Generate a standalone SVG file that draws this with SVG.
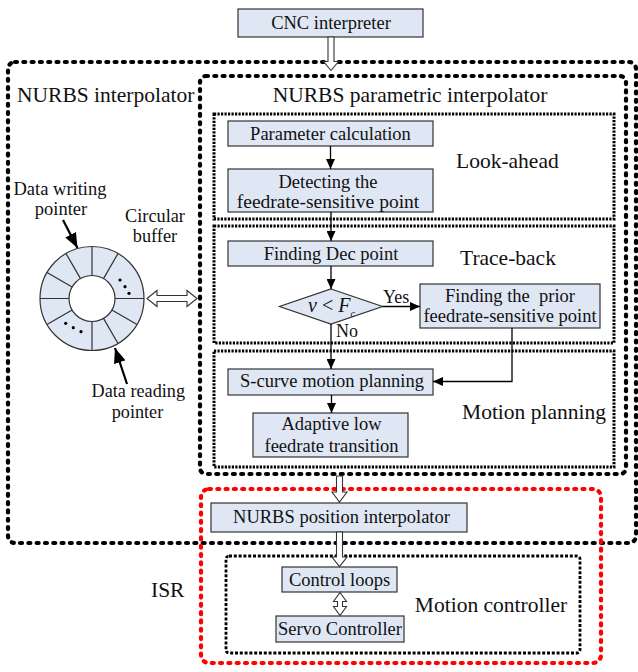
<svg xmlns="http://www.w3.org/2000/svg" width="638" height="672" viewBox="0 0 638 672" font-family="'Liberation Serif', 'Times New Roman', 'DejaVu Serif', serif">
<style>
text{font-family:'Liberation Serif','Times New Roman','DejaVu Serif',serif;fill:#111;}
.bx{fill:#dfe7f4;stroke:#333;stroke-width:1.2;}
.t18{font-size:18.5px;text-anchor:middle;}
.lbl{font-size:21.5px;}
.big{stroke:#000;stroke-width:4.2;fill:none;stroke-dasharray:2 6.3;stroke-linecap:round;}
.red{stroke:#ff0000;stroke-width:4.2;fill:none;stroke-dasharray:2 6.3;stroke-linecap:round;}
.sub{stroke:#000;stroke-width:3;fill:none;stroke-dasharray:2.2 1.3;}
.mc{stroke:#000;stroke-width:2.8;fill:none;stroke-dasharray:3 1.8;}
.ln{stroke:#000;stroke-width:1.3;fill:none;}
.hol{fill:#fff;stroke:#333;stroke-width:1.1;}
</style>
<defs>
<marker id="ah" markerUnits="userSpaceOnUse" markerWidth="10" markerHeight="9" refX="10" refY="4.5" orient="auto"><path d="M0,0 L10,4.5 L0,9 z" fill="#000"/></marker>
<marker id="ph" markerUnits="userSpaceOnUse" markerWidth="15" markerHeight="12" refX="15" refY="6" orient="auto"><path d="M0,0 L15,6 L0,12 z" fill="#000"/></marker>
</defs>
<rect width="638" height="672" fill="#fff"/>

<!-- containers -->
<g id="nurbs-interpolator">
<rect class="big" x="8" y="62" width="628" height="481" rx="7"/>
<text class="lbl" x="17" y="102">NURBS interpolator</text>
</g>
<g id="nurbs-parametric-interpolator">
<rect class="big" x="200" y="76" width="426" height="398" rx="6"/>
<text class="lbl" x="410" y="102" text-anchor="middle">NURBS parametric interpolator</text>
</g>
<g id="look-ahead">
<rect class="sub" x="214" y="114" width="400" height="105"/>
<text class="lbl" x="456" y="168">Look-ahead</text>
</g>
<g id="trace-back">
<rect class="sub" x="214" y="226" width="400" height="117"/>
<text class="lbl" x="460" y="265">Trace-back</text>
</g>
<g id="motion-planning">
<rect class="sub" x="214" y="351" width="400" height="116"/>
<text class="lbl" x="534" y="419" text-anchor="middle">Motion planning</text>
</g>
<g id="isr">
<rect class="red" x="201" y="489" width="400" height="174" rx="8"/>
<text class="lbl" x="151" y="597">ISR</text>
</g>
<g id="motion-controller">
<rect class="mc" x="226" y="556" width="354" height="97" rx="3"/>
<text class="lbl" x="491" y="612" text-anchor="middle">Motion controller</text>
</g>

<!-- nodes -->
<g id="cnc-interpreter">
<rect class="bx" x="238" y="9" width="185" height="28"/>
<text class="t18" x="331" y="28.5">CNC interpreter</text>
</g>
<g id="parameter-calculation">
<rect class="bx" x="228" y="121" width="205" height="25"/>
<text class="t18" x="330.5" y="139.5">Parameter calculation</text>
</g>
<g id="detecting">
<rect class="bx" x="228" y="169" width="205" height="43"/>
<text class="t18" x="328" y="188">Detecting the</text>
<text class="t18" x="328" y="208" style="font-size:19.5px">feedrate-sensitive point</text>
</g>
<g id="finding-dec-point">
<rect class="bx" x="228" y="241" width="205" height="25"/>
<text class="t18" x="331" y="259.5">Finding Dec point</text>
</g>
<g id="decision">
<polygon class="bx" points="331,289 382.5,306.5 331,324 279.5,306.5"/>
<text x="308" y="311.5" style="font-size:20px"><tspan font-style="italic">v</tspan> &lt; <tspan font-style="italic">F</tspan><tspan font-style="italic" font-size="10" dy="5">c</tspan></text>
</g>
<g id="finding-prior">
<rect class="bx" x="420" y="284" width="180" height="44"/>
<text class="t18" x="510" y="302" style="white-space:pre">Finding the  prior</text>
<text class="t18" x="510" y="322">feedrate-sensitive point</text>
</g>
<g id="s-curve">
<rect class="bx" x="228" y="369" width="205" height="26"/>
<text class="t18" x="332" y="387">S-curve motion planning</text>
</g>
<g id="adaptive">
<rect class="bx" x="253" y="413" width="155" height="44"/>
<text class="t18" x="331.5" y="430">Adaptive low</text>
<text class="t18" x="331.5" y="451.5">feedrate transition</text>
</g>
<g id="nurbs-position-interpolator">
<rect class="bx" x="211" y="503" width="256" height="29"/>
<text class="t18" x="341.5" y="523">NURBS position interpolator</text>
</g>
<g id="control-loops">
<rect class="bx" x="282" y="567" width="115" height="25"/>
<text class="t18" x="339.5" y="585.5">Control loops</text>
</g>
<g id="servo-controller">
<rect class="bx" x="276" y="616" width="128" height="26"/>
<text class="t18" x="340" y="634.5">Servo Controller</text>
</g>
<g id="circular-buffer">
<circle cx="92" cy="298.5" r="52" fill="#dfe7f4" stroke="#333" stroke-width="1.2"/>
<circle cx="92" cy="298.5" r="23" fill="#fff" stroke="#333" stroke-width="1.2"/>
<path stroke="#333" stroke-width="1.2" d="M115,298.5H144 M103.5,278.6L118,253.5 M92,275.5V246.5 M80.5,278.6L66,253.5 M72.1,287L47,272.5 M69,298.5H40 M72.1,310L47,324.5 M92,321.5V350.5 M103.5,318.4L118,343.5 M111.9,310L137,324.5"/>
<g fill="#000"><circle cx="120" cy="280" r="1.6"/><circle cx="125" cy="286.7" r="1.6"/><circle cx="129" cy="293.3" r="1.6"/><circle cx="65.7" cy="323.3" r="1.6"/><circle cx="73.3" cy="327.7" r="1.6"/><circle cx="81" cy="331.7" r="1.6"/></g>
<text x="155" y="222" style="font-size:18.3px" text-anchor="middle">Circular</text>
<text x="155" y="242" style="font-size:18.3px" text-anchor="middle">buffer</text>
</g>
<g id="data-writing-pointer">
<text x="60" y="195" style="font-size:18.5px" text-anchor="middle">Data writing</text>
<text x="61" y="215" style="font-size:18.5px" text-anchor="middle">pointer</text>
</g>
<g id="data-reading-pointer">
<text x="138.3" y="397" style="font-size:18.2px" text-anchor="middle">Data reading</text>
<text x="137.5" y="418" style="font-size:18.2px" text-anchor="middle">pointer</text>
</g>

<!-- connectors -->
<g id="connectors">
<line class="ln" x1="330.5" y1="146" x2="330.5" y2="169" marker-end="url(#ah)"/>
<line class="ln" x1="331" y1="212" x2="331" y2="241" marker-end="url(#ah)"/>
<line class="ln" x1="331" y1="266" x2="331" y2="289" marker-end="url(#ah)"/>
<line class="ln" x1="331" y1="324" x2="331" y2="369" marker-end="url(#ah)"/>
<line class="ln" x1="382.5" y1="306.5" x2="420" y2="306.5" marker-end="url(#ah)"/>
<polyline class="ln" points="512,328 512,381.5 433,381.5" marker-end="url(#ah)"/>
<line class="ln" x1="331.5" y1="395" x2="331.5" y2="413" marker-end="url(#ah)"/>
<text x="383" y="303" style="font-size:18px">Yes</text>
<text x="336" y="337" style="font-size:18px">No</text>
<line x1="63" y1="220" x2="77.5" y2="248" stroke="#000" stroke-width="2.2" marker-end="url(#ph)"/>
<line x1="127" y1="384" x2="115" y2="348" stroke="#000" stroke-width="2.2" marker-end="url(#ph)"/>
<polygon class="hol" points="328,37 334,37 334,61.5 338.5,61.5 331,70.5 323.5,61.5 328,61.5"/>
<polygon class="hol" points="336.5,476 342.5,476 342.5,492 347,492 339.5,502 332,492 336.5,492"/>
<polygon class="hol" points="336.5,532 342.5,532 342.5,557 347,557 339.5,566.5 332,557 336.5,557"/>
<polygon class="hol" points="340,592.5 346.5,601.5 342.5,601.5 342.5,606.5 346.5,606.5 340,615.5 333.5,606.5 337.5,606.5 337.5,601.5 333.5,601.5"/>
<polygon class="hol" points="147,298.5 157,290.5 157,295.5 187,295.5 187,290.5 197,298.5 187,306.5 187,301.5 157,301.5 157,306.5"/>
</g>
</svg>
